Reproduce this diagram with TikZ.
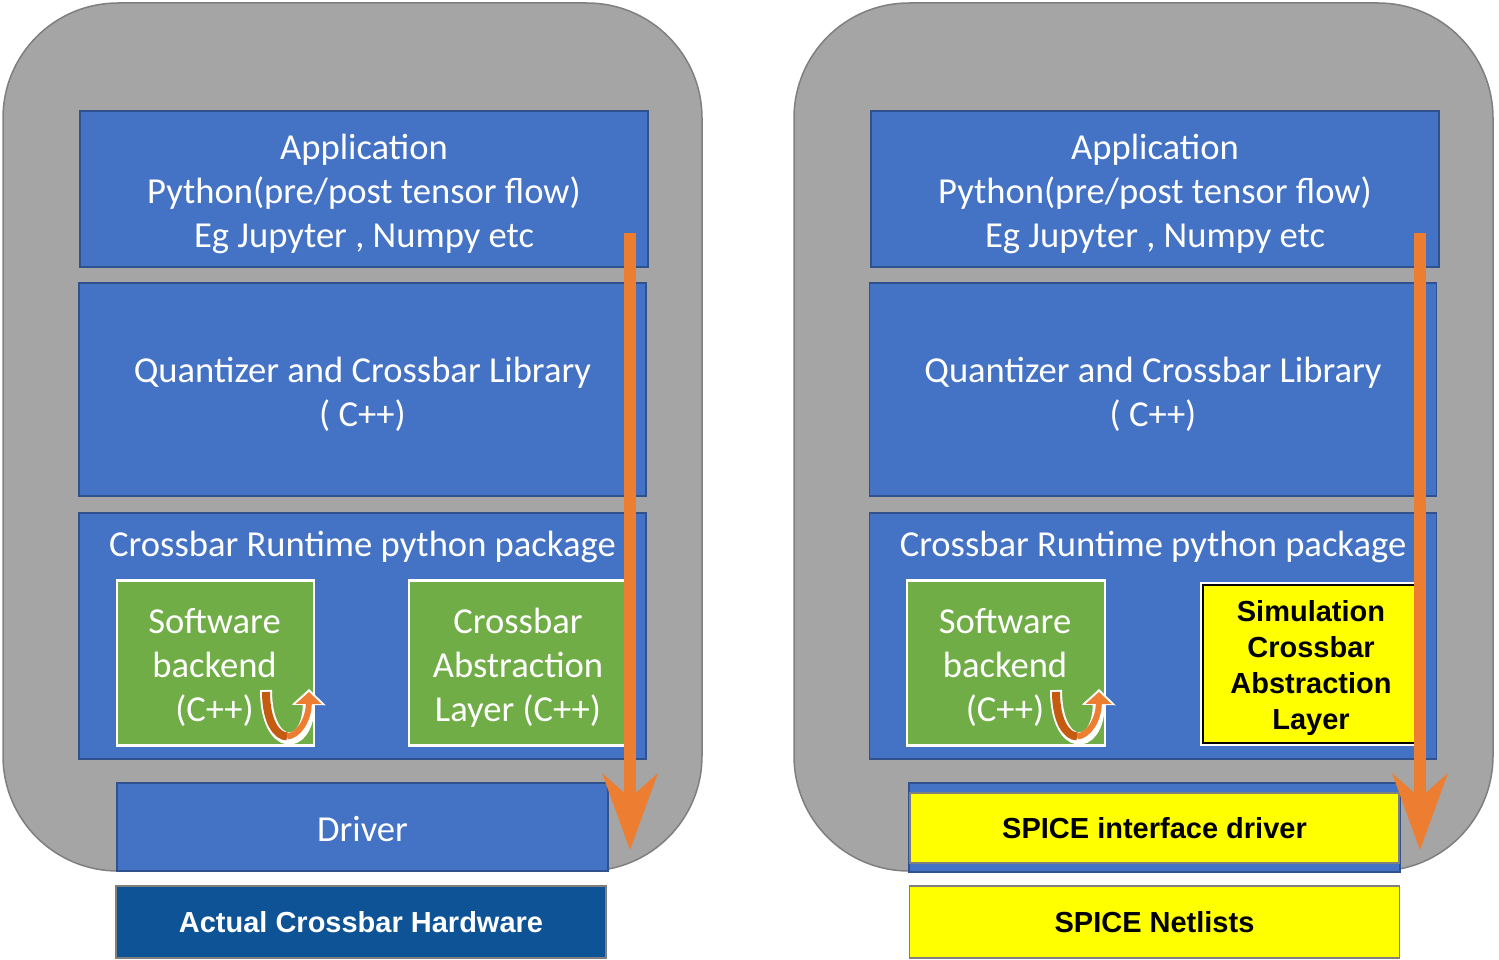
\documentclass[tikz,border=0pt]{standalone}
\usepackage{fontspec}
\setmainfont{Carlito}
\newfontfamily\headfont{Liberation Sans}
\usetikzlibrary{arrows.meta}

\definecolor{panelgray}{HTML}{A5A5A5}
\definecolor{panelline}{HTML}{7F7F7F}
\definecolor{layerblue}{HTML}{4472C4}
\definecolor{layerline}{HTML}{2F528F}
\definecolor{modgreen}{HTML}{70AD47}
\definecolor{flow}{HTML}{ED7D31}
\definecolor{flowdark}{HTML}{C55A11}
\definecolor{hwblue}{HTML}{0E5395}
\definecolor{spice}{HTML}{FFFF00}

\tikzset{
	panel/.style={draw=panelline,line width=1.5pt,fill=panelgray,rounded corners=115pt,inner sep=0},
	layer/.style={draw=layerline,line width=1.2pt,fill=layerblue,inner sep=0},
	module/.style={layer,draw=white,line width=2.5pt,fill=modgreen},
	boxtext/.style={text=white,inner sep=0,align=center,font=\fontsize{36.6}{44}\selectfont},
	boldtext/.style={inner sep=0,align=center,font=\headfont\bfseries\fontsize{29}{36}\selectfont},
	hwbox/.style={boldtext,draw=panelline,line width=1.5pt,fill=hwblue,text=white},
	spicebox/.style={boldtext,draw=panelline,line width=1.5pt,fill=spice,text=black},
	simbox/.style={draw=black,line width=1.5pt,fill=spice,inner sep=0,preaction={draw=white,line width=6pt}},
	flowarrow/.style={draw=flow,line width=12pt,-{Stealth[length=77pt,width=56pt,inset=25pt,line width=0pt]}}
}

\begin{document}
\begin{tikzpicture}[x=1pt,y=-1pt]
	\useasboundingbox (0,0) rectangle (1499,960);
	\node[panel,minimum width=699pt,minimum height=868pt] (lpanel) at (352.5,437) {};
	\node[layer,minimum width=568pt,minimum height=156pt] (lapp) at (364,189) {};
	\node[layer,minimum width=567pt,minimum height=213pt] (lquant) at (362.5,389.5) {};
	\node[layer,minimum width=567pt,minimum height=246pt] (lrt) at (362.5,636) {};
	\node[module,minimum width=197pt,minimum height=165pt] (lsw) at (215.5,663) {};
	\node[module,minimum width=218pt,minimum height=165pt] (lcal) at (518,663) {};
	\node[layer,minimum width=491pt,minimum height=88pt] (ldrv) at (362.5,827) {};
	\node[hwbox,minimum width=490pt,minimum height=72pt] (lhw) at (361,922) {Actual Crossbar Hardware};
	\node[boxtext] (lapptext) at ([yshift=-5pt]lapp.center) {Application\\Python(pre/post tensor flow)\\Eg Jupyter , Numpy etc};
	\node[boxtext] (lquanttext) at ([yshift=-5pt]lquant.center) {Quantizer and Crossbar Library\\( C++)};
	\node[boxtext] (lrttext) at (362.5,547) {Crossbar Runtime python package};
	\node[boxtext] (lswtext) at ([xshift=-1pt,yshift=-4pt]lsw.center) {Software\\backend\\(C++)};
	\node[boxtext] (lcaltext) at ([yshift=-5pt]lcal.center) {Crossbar\\Abstraction\\Layer (C++)};
	\node[boxtext] (ldrvtext) at ([yshift=-2pt]ldrv.center) {Driver};

	\node[panel,minimum width=699pt,minimum height=868pt] (rpanel) at (1143.5,437) {};
	\node[layer,minimum width=568pt,minimum height=156pt] (rapp) at (1155,189) {};
	\node[layer,minimum width=567pt,minimum height=213pt] (rquant) at (1153,389.5) {};
	\node[layer,minimum width=567pt,minimum height=246pt] (rrt) at (1153,636) {};
	\node[module,minimum width=198pt,minimum height=165pt] (rsw) at (1006,663) {};
	\node[simbox,minimum width=212pt,minimum height=158pt] (rsim) at (1309,664) {};
	\node[layer,minimum width=491pt,minimum height=89pt] (rdrvbase) at (1154.5,827.5) {};
	\node[spicebox,minimum width=489pt,minimum height=70pt] (rdrv) at (1154.5,828) {SPICE interface driver};
	\node[spicebox,minimum width=490pt,minimum height=72pt] (rnet) at (1154.5,922) {SPICE Netlists};
	\node[boxtext] (rapptext) at ([yshift=-5pt]rapp.center) {Application\\Python(pre/post tensor flow)\\Eg Jupyter , Numpy etc};
	\node[boxtext] (rquanttext) at ([yshift=-5pt]rquant.center) {Quantizer and Crossbar Library\\( C++)};
	\node[boxtext] (rrttext) at (1153,547) {Crossbar Runtime python package};
	\node[boxtext] (rswtext) at ([xshift=-1pt,yshift=-4pt]rsw.center) {Software\\backend\\(C++)};
	\node[boldtext] (rsimtext) at ([xshift=2pt,yshift=-4pt]rsim.center) {Simulation\\Crossbar\\Abstraction\\Layer};

	\foreach \dx in {0,790} {
		\begin{scope}[xshift=\dx pt]
			\draw[white,line width=12pt,-{Triangle[length=16pt,width=34pt,line width=0pt]}] (266,690) .. controls (266,752) and (308,752) .. (309,689);
			\draw[flowdark,line width=8pt] (266,692) .. controls (266,721) and (276.5,736.5) .. (287.1,736.4);
			\draw[flow,line width=6pt,-{Triangle[length=12pt,width=26pt,line width=0pt]}] (287.1,736.4) .. controls (297.75,736.25) and (308.5,720.5) .. (309,692);
		\end{scope}
	}

	\coordinate (lflowtop) at (630,233);
	\coordinate (lflowend) at (630,850);
	\coordinate (rflowtop) at (1420,233);
	\coordinate (rflowend) at (1420,850);
	\draw[flowarrow] (lflowtop) -- (lflowend);
	\draw[flowarrow] (rflowtop) -- (rflowend);
\end{tikzpicture}
\end{document}
